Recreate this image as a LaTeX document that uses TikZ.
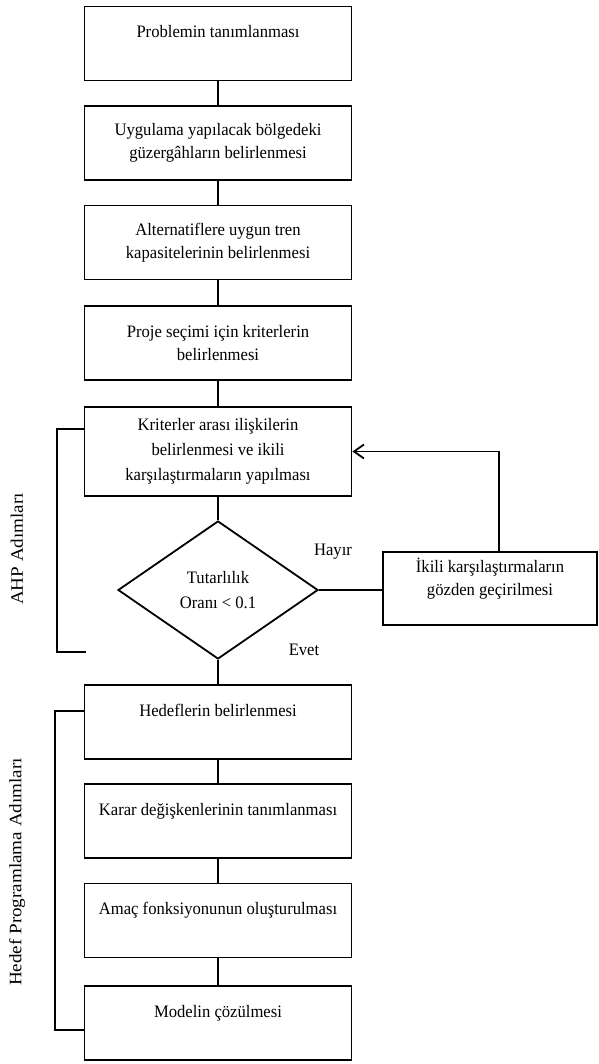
\documentclass[tikz,border=0pt]{standalone}
\usepackage{fontspec}
\setmainfont{Liberation Serif}[FakeStretch=0.95]
\newfontfamily\sidefont{Liberation Serif}[FakeStretch=1.09]
\usetikzlibrary{shapes.geometric,arrows.meta}

\begin{document}
\begin{tikzpicture}[x=1pt,y=-1pt]
\tikzstyle{box}=[draw,rectangle,line width=1.8pt,minimum width=267pt,minimum height=74pt,inner sep=0pt,align=center,font=\fontsize{17.5}{23}\selectfont]
\tikzstyle{topbox}=[box,text height=12pt,text depth=24pt]
\tikzstyle{decision}=[draw,diamond,line width=1.8pt,minimum width=200pt,minimum height=138pt,inner sep=0pt,align=center,font=\fontsize{17.5}{25}\selectfont]
\tikzstyle{side}=[rotate=90,font=\sidefont\fontsize{17.5}{21}\selectfont]
\tikzstyle{answer}=[font=\fontsize{17.5}{21}\selectfont]
\tikzstyle{link}=[line width=1.8pt]
\useasboundingbox (0,0) rectangle (598,1064);
\node [topbox] (a) at (218,43.5) {Problemin tanımlanması};
\node [box] (b) at (218,143) {Uygulama yapılacak bölgedeki\\güzergâhların belirlenmesi};
\node [box] (c) at (218,242.5) {Alternatiflere uygun tren\\kapasitelerinin belirlenmesi};
\node [box] (d) at (218,343) {Proje seçimi için kriterlerin\\belirlenmesi};
\node [box,minimum height=89pt,font=\fontsize{17.5}{25}\selectfont] (e) at (218,451.5) {Kriterler arası ilişkilerin\\belirlenmesi ve ikili\\karşılaştırmaların yapılması};
\node [decision] (f) at (218,590) {Tutarlılık\\Oranı < 0.1};
\node [box,minimum width=214pt,minimum height=73pt,label={[align=center,font=\fontsize{17.5}{23}\selectfont,yshift=10pt]center:İkili karşılaştırmaların\\gözden geçirilmesi}] (g) at (490,588.5) {};
\node [topbox] (h) at (218,722) {Hedeflerin belirlenmesi};
\node [topbox] (i) at (218,821) {Karar değişkenlerinin tanımlanması};
\node [topbox] (j) at (218,920.5) {Amaç fonksiyonunun oluşturulması};
\node [topbox] (k) at (218,1023) {Modelin çözülmesi};
\coordinate (ahp) at (86,652);
\draw [link] (a) -- (b);
\draw [link] (b) -- (c);
\draw [link] (c) -- (d);
\draw [link] (d) -- (e);
\draw [link] (e) -- (f);
\draw [link] (f) -- (h);
\draw [link] (h) -- (i);
\draw [link] (i) -- (j);
\draw [link] (j) -- (k);
\draw [link] (f.east) -- (f.east -| g.west);
\draw [link,-{Straight Barb[length=10pt,width=14pt]}] ([xshift=9pt]g.north) |- (e.east);
\draw [link] ([yshift=22.5pt]e.west) -- ++(-27,0) |- (ahp);
\draw [link] ([yshift=11pt]h.west) -- ++(-29,0) |- ([yshift=-7pt]k.west);
\node [answer] (hayir) at (333,552) {Hayır};
\node [answer] (evet) at (304,650) {Evet};
\node [side] (ahplabel) at (17,549) {AHP Adımları};
\node [side] (hplabel) at (17,872) {Hedef Programlama Adımları};
\end{tikzpicture}
\end{document}
